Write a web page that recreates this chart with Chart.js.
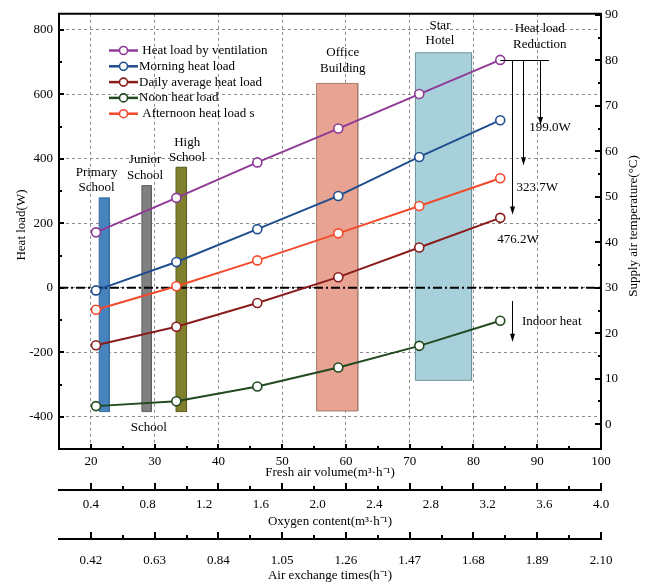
<!DOCTYPE html>
<html>
<head>
<meta charset="utf-8">
<script src="https://cdn.jsdelivr.net/npm/chart.js@4.4.1/dist/chart.umd.min.js"></script>
<style>
  html, body { margin: 0; padding: 0; background: #fff; }
  #wrap { width: 646px; height: 583px; }
</style>
</head>
<body>
<div id="wrap"><canvas id="chart"></canvas></div>
<script>
// fresh air volume of each operating point (m3/h)
const FRESH_AIR = [20.8, 33.4, 46.1, 58.8, 71.5, 84.2];

// heat load series (W)
const VENTILATION = [172, 279, 389, 494, 601, 707];
const MORNING = [-8, 80, 182, 285, 406, 520];
const DAILY_AVG = [-178, -121, -47, 33, 125, 217];
const NOON = [-367, -352, -306, -247, -180, -102];
const AFTERNOON = [-68, 5, 85, 169, 254, 340];

// building ranges: fresh air span and heat load span
const BUILDINGS = ["Primary School", "Junior School", "High School", "Office Building", "Star Hotel"];
const BLD_X_FROM = [21.3, 28.0, 33.35, 55.4, 70.9];
const BLD_X_TO = [22.9, 29.5, 35.0, 61.85, 79.7];
const BLD_LOW = [-384, -384, -384, -382, -287];
const BLD_HIGH = [279, 317, 374, 634, 729];

// heat load reductions against ventilation load (W)
const REDUCTIONS = [199.0, 323.7, 476.2];
const INDOOR_HEAT = [-41, -164];

// axis ticks
const X_TICKS = [20, 30, 40, 50, 60, 70, 80, 90, 100];
const X_MINOR = [25, 35, 45, 55, 65, 75, 85, 95];
const Y_TICKS = [-400, -200, 0, 200, 400, 600, 800];
const Y_MINOR = [-300, -100, 100, 300, 500, 700];
const TEMP_TICKS = [0, 10, 20, 30, 40, 50, 60, 70, 80, 90];
const TEMP_MINOR = [5, 15, 25, 35, 45, 55, 65, 75, 85];
const OXYGEN_TICKS = [0.4, 0.8, 1.2, 1.6, 2.0, 2.4, 2.8, 3.2, 3.6, 4.0];
const EXCHANGE_TICKS = [0.42, 0.63, 0.84, 1.05, 1.26, 1.47, 1.68, 1.89, 2.10];

const SERIF = "'Liberation Serif', 'Times New Roman', serif";
const TICK_FONT = { family: SERIF, size: 13 };
const TITLE_FONT = { family: SERIF, size: 13 };
const GRID = "#8c8c8c";

const SERIES = [
  { label: " Heat load by ventilation", data: VENTILATION, color: "#8e3a96" },
  { label: "Morning heat load", data: MORNING, color: "#1f4e8f" },
  { label: "Daily average heat load", data: DAILY_AVG, color: "#8b1c1c" },
  { label: "Noon heat load", data: NOON, color: "#22491f" },
  { label: " Afternoon heat load s", data: AFTERNOON, color: "#f24a2c" },
];

const BLD_STYLE = [
  { fill: "#4683bf", line: "#3b6f9e" },
  { fill: "#808080", line: "#5f5f5f" },
  { fill: "#7f7f2e", line: "#5e5e22" },
  { fill: "#e8a392", line: "#a87c70" },
  { fill: "#a8d0da", line: "#6f939c" },
];

function ticksOf(values) {
  return (s) => { s.ticks = values.map((v) => ({ value: v })); };
}

// inward tick marks; bottom helper axes borrow the fresh air positions
const innerTicks = {
  id: "innerTicks",
  afterDraw(chart, args, opts) {
    const ctx = chart.ctx;
    const area = chart.chartArea;
    ctx.save();
    ctx.strokeStyle = "#000";
    ctx.lineWidth = 2;
    // frame top
    ctx.beginPath();
    ctx.moveTo(area.left - 1, area.top);
    ctx.lineTo(area.right + 1, area.top);
    ctx.stroke();
    opts.axes.forEach((a) => {
      const s = chart.scales[a.scale];
      const ref = chart.scales[a.ref || a.scale];
      const mark = (v, len) => {
        const p = Math.round(ref.getPixelForValue(v));
        ctx.beginPath();
        if (s.position === "left") { ctx.moveTo(s.right, p); ctx.lineTo(s.right + len, p); }
        else if (s.position === "right") { ctx.moveTo(s.left, p); ctx.lineTo(s.left - len, p); }
        else { ctx.moveTo(p, s.top); ctx.lineTo(p, s.top - len); }
        ctx.stroke();
      };
      a.major.forEach((v) => mark(v, a.majorLen));
      a.minor.forEach((v) => mark(v, a.minorLen));
    });

    // vertical axis titles, both reading upwards
    ctx.fillStyle = "#000";
    ctx.font = `${opts.titleSize}px ${SERIF}`;
    ctx.textAlign = "center";
    ctx.textBaseline = "middle";
    opts.titles.forEach((t) => {
      ctx.save();
      ctx.translate(t.x, t.y);
      ctx.rotate(-Math.PI / 2);
      ctx.fillText(t.text, 0, 0);
      ctx.restore();
    });
    ctx.restore();
  },
};

// legend drawn inside the plot area
const innerLegend = {
  id: "innerLegend",
  afterDatasetsDraw(chart, args, opts) {
    const ctx = chart.ctx;
    ctx.save();
    ctx.font = `${opts.size}px ${SERIF}`;
    ctx.textBaseline = "middle";
    ctx.fillStyle = "#000";
    SERIES.forEach((s, i) => {
      const y = opts.top + i * opts.step;
      ctx.strokeStyle = s.color;
      ctx.lineWidth = 2.5;
      ctx.beginPath();
      ctx.moveTo(opts.left, y);
      ctx.lineTo(opts.left + opts.lineLen, y);
      ctx.stroke();
      ctx.beginPath();
      ctx.arc(opts.left + opts.lineLen / 2, y, 4, 0, Math.PI * 2);
      ctx.fillStyle = "#fff";
      ctx.fill();
      ctx.lineWidth = 1.6;
      ctx.stroke();
      ctx.fillStyle = "#000";
      ctx.fillText(s.label, opts.left + opts.lineLen + 1, y);
    });
    ctx.restore();
  },
};

// text notes and arrows in data coordinates
const notes = {
  id: "notes",
  afterDatasetsDraw(chart, args, opts) {
    const ctx = chart.ctx;
    const xs = chart.scales.x;
    const ys = chart.scales.y;
    const px = (v) => xs.getPixelForValue(v);
    const py = (v) => ys.getPixelForValue(v);
    ctx.save();
    ctx.font = `${opts.size}px ${SERIF}`;
    ctx.fillStyle = "#000";
    ctx.textBaseline = "middle";
    opts.texts.forEach((t) => {
      ctx.textAlign = t.align || "center";
      ctx.fillText(t.text, px(t.x), py(t.y));
    });

    function arrow(x, y0, y1) {
      const X = Math.round(px(x)) + 0.5;
      const a = py(y0);
      const b = py(y1);
      ctx.strokeStyle = "#000";
      ctx.lineWidth = 1;
      ctx.beginPath();
      ctx.moveTo(X, a);
      ctx.lineTo(X, b);
      ctx.stroke();
      ctx.beginPath();
      ctx.moveTo(X, b + 1);
      ctx.lineTo(X - 2.5, b - 7);
      ctx.lineTo(X + 2.5, b - 7);
      ctx.closePath();
      ctx.fillStyle = "#000";
      ctx.fill();
    }

    const top = VENTILATION[VENTILATION.length - 1];
    ctx.strokeStyle = "#000";
    ctx.lineWidth = 1;
    ctx.beginPath();
    ctx.moveTo(px(FRESH_AIR[FRESH_AIR.length - 1]), Math.round(py(top)) + 0.5);
    ctx.lineTo(px(opts.barEnd), Math.round(py(top)) + 0.5);
    ctx.stroke();
    REDUCTIONS.forEach((r, i) => arrow(opts.arrowX[i], top, top - r));
    arrow(opts.arrowX[2], INDOOR_HEAT[0], INDOOR_HEAT[1]);
    ctx.restore();
  },
};

const datasets = [];

SERIES.forEach((s) => {
  datasets.push({
    label: s.label,
    data: FRESH_AIR.map((x, i) => ({ x, y: s.data[i] })),
    borderColor: s.color,
    backgroundColor: s.color,
    borderWidth: 2,
    pointRadius: 4.5,
    pointBackgroundColor: "#fff",
    pointBorderColor: s.color,
    pointBorderWidth: 1.6,
    tension: 0,
    order: 1,
  });
});

// zero heat load reference
datasets.push({
  label: "zero",
  data: [{ x: 15, y: 0 }, { x: 100, y: 0 }],
  borderColor: "#000",
  borderWidth: 2,
  borderDash: [9, 3, 2, 3],
  pointRadius: 0,
  order: 5,
});

BUILDINGS.forEach((name, i) => {
  const x0 = BLD_X_FROM[i], x1 = BLD_X_TO[i], lo = BLD_LOW[i], hi = BLD_HIGH[i];
  datasets.push({
    label: name,
    data: [{ x: x0, y: lo }, { x: x0, y: hi }, { x: x1, y: hi }, { x: x1, y: lo }, { x: x0, y: lo }],
    borderColor: BLD_STYLE[i].line,
    backgroundColor: BLD_STYLE[i].fill,
    borderWidth: 1,
    fill: "shape",
    pointRadius: 0,
    tension: 0,
    order: 10,
  });
});

new Chart(document.getElementById("chart"), {
  type: "line",
  data: { datasets },
  plugins: [innerTicks, innerLegend, notes],
  options: {
    responsive: true,
    maintainAspectRatio: false,
    animation: false,
    events: [],
    layout: { padding: { top: 10, left: 0, right: 0, bottom: 0 } },
    plugins: {
      legend: { display: false },
      tooltip: { enabled: false },
      innerTicks: {
        axes: [
          { scale: "x", major: X_TICKS, minor: X_MINOR, majorLen: 5, minorLen: 3 },
          { scale: "xO", ref: "x", major: X_TICKS, minor: X_MINOR, majorLen: 7, minorLen: 4 },
          { scale: "xA", ref: "x", major: X_TICKS, minor: X_MINOR, majorLen: 7, minorLen: 4 },
          { scale: "y", major: Y_TICKS, minor: Y_MINOR, majorLen: 5, minorLen: 3 },
          { scale: "y2", major: TEMP_TICKS, minor: TEMP_MINOR, majorLen: 6, minorLen: 3 },
        ],
        titleSize: 13,
        titles: [
          { text: "Heat load(W)", x: 22, y: 225 },
          { text: "Supply air temperature(°C)", x: 634, y: 226 },
        ],
      },
      innerLegend: { left: 109, top: 50.5, step: 15.8, lineLen: 29, size: 13 },
      notes: {
        size: 13,
        barEnd: 91.85,
        arrowX: [90.4, 87.8, 86.05],
        texts: [
          { text: "Primary", x: 20.9, y: 358 },
          { text: "School", x: 20.9, y: 312 },
          { text: "Junior", x: 28.5, y: 398 },
          { text: "School", x: 28.5, y: 349 },
          { text: "High", x: 35.1, y: 450 },
          { text: "School", x: 35.1, y: 404 },
          { text: "School", x: 29.1, y: -435 },
          { text: "Office", x: 59.5, y: 729 },
          { text: "Building", x: 59.5, y: 681 },
          { text: "Star", x: 74.75, y: 814 },
          { text: "Hotel", x: 74.75, y: 768 },
          { text: "Heat load", x: 90.4, y: 804 },
          { text: "Reduction", x: 90.4, y: 756 },
          { text: "199.0W", x: 92, y: 497 },
          { text: "323.7W", x: 90, y: 312 },
          { text: "476.2W", x: 87, y: 149 },
          { text: "Indoor heat", x: 87.6, y: -106, align: "left" },
        ],
      },
    },
    scales: {
      x: {
        type: "linear", position: "bottom", weight: 0, min: 15, max: 100,
        afterBuildTicks: ticksOf(X_TICKS),
        afterFit: (s) => { s.height = 41; },
        grid: { color: GRID, lineWidth: 1, drawTicks: false },
        border: { display: true, color: "#000", width: 2, dash: [3, 3] },
        ticks: { padding: 5, color: "#000", font: TICK_FONT, maxRotation: 0, autoSkip: false },
        title: { display: true, text: "Fresh air volume(m³·h⁻¹)", color: "#000", font: TITLE_FONT, padding: { top: 0, bottom: 10 } },
      },
      xO: {
        type: "linear", position: "bottom", weight: 1, min: 0.175, max: 4.0,
        afterBuildTicks: ticksOf(OXYGEN_TICKS),
        afterFit: (s) => { s.height = 49; },
        grid: { display: false, drawTicks: false },
        border: { display: true, color: "#000", width: 2 },
        ticks: { padding: 7, color: "#000", font: TICK_FONT, maxRotation: 0, autoSkip: false, callback: (v) => v.toFixed(1) },
        title: { display: true, text: "Oxygen content(m³·h⁻¹)", color: "#000", font: TITLE_FONT, padding: { top: 0, bottom: 10 } },
      },
      xA: {
        type: "linear", position: "bottom", weight: 2, min: 0.315, max: 2.1,
        afterBuildTicks: ticksOf(EXCHANGE_TICKS),
        afterFit: (s) => { s.height = 44; },
        grid: { display: false, drawTicks: false },
        border: { display: true, color: "#000", width: 2 },
        ticks: { padding: 14, color: "#000", font: TICK_FONT, maxRotation: 0, autoSkip: false, callback: (v) => v.toFixed(2) },
        title: { display: true, text: "Air exchange times(h⁻¹)", color: "#000", font: TITLE_FONT, padding: { top: 0, bottom: 0 } },
      },
      y: {
        type: "linear", position: "left", min: -500, max: 850,
        afterBuildTicks: ticksOf(Y_TICKS),
        afterFit: (s) => { s.width = 59; },
        grid: { color: GRID, lineWidth: 1, drawTicks: false },
        border: { display: true, color: "#000", width: 2, dash: [3, 3] },
        ticks: { padding: 6, color: "#000", font: TICK_FONT, autoSkip: false },
        title: { display: false },
      },
      y2: {
        type: "linear", position: "right", min: -5.45, max: 90.25,
        afterBuildTicks: ticksOf(TEMP_TICKS),
        afterFit: (s) => { s.width = 45; },
        grid: { display: false, drawTicks: false },
        border: { display: true, color: "#000", width: 2 },
        ticks: { padding: 4, color: "#000", font: TICK_FONT, autoSkip: false },
        title: { display: false },
      },
    },
  },
});
</script>
</body>
</html>
